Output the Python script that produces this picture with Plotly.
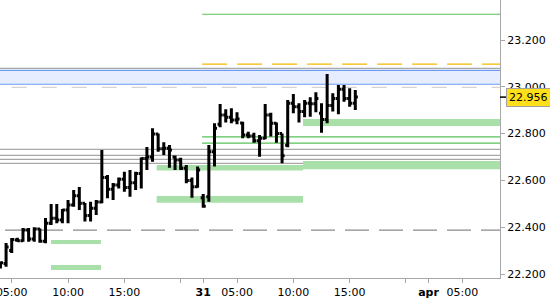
import plotly.graph_objects as go

# ---- OHLC data (30-minute bars, indexed by bar number) ----
open_ = [22.230, 22.245, 22.300, 22.345, 22.342, 22.388, 22.350, 22.392, 22.340, 22.417,
         22.438, 22.431, 22.474, 22.495, 22.535, 22.502, 22.450, 22.481, 22.508, 22.613,
         22.562, 22.580, 22.605, 22.570, 22.590, 22.630, 22.694, 22.700, 22.798, 22.735,
         22.737, 22.700, 22.687, 22.652, 22.600, 22.573, 22.526, 22.530, 22.723, 22.840,
         22.880, 22.870, 22.858, 22.845, 22.794, 22.790, 22.770, 22.780, 22.880, 22.844,
         22.800, 22.750, 22.930, 22.915, 22.894, 22.930, 22.928, 22.887, 22.860, 22.920,
         22.950, 22.990, 22.950, 22.930]
high = [22.253, 22.333, 22.354, 22.355, 22.397, 22.397, 22.400, 22.395, 22.439, 22.499,
        22.499, 22.478, 22.516, 22.559, 22.572, 22.503, 22.509, 22.516, 22.730, 22.623,
        22.589, 22.612, 22.637, 22.645, 22.637, 22.698, 22.743, 22.823, 22.801, 22.763,
        22.751, 22.706, 22.697, 22.666, 22.612, 22.659, 22.542, 22.751, 22.844, 22.927,
        22.904, 22.908, 22.891, 22.851, 22.808, 22.804, 22.794, 22.927, 22.889, 22.847,
        22.801, 22.944, 22.969, 22.930, 22.944, 22.955, 22.977, 22.930, 23.055, 22.972,
        23.008, 23.008, 22.994, 22.986]
low = [22.224, 22.231, 22.290, 22.338, 22.338, 22.338, 22.338, 22.334, 22.331, 22.409,
       22.417, 22.417, 22.417, 22.488, 22.474, 22.424, 22.424, 22.452, 22.502, 22.524,
       22.516, 22.566, 22.552, 22.530, 22.559, 22.566, 22.645, 22.680, 22.723, 22.709,
       22.654, 22.645, 22.645, 22.588, 22.526, 22.569, 22.483, 22.509, 22.659, 22.827,
       22.847, 22.844, 22.840, 22.780, 22.780, 22.761, 22.701, 22.776, 22.788, 22.761,
       22.673, 22.742, 22.887, 22.847, 22.870, 22.872, 22.891, 22.804, 22.844, 22.894,
       22.883, 22.936, 22.915, 22.901]
close = [22.248, 22.315, 22.348, 22.342, 22.388, 22.350, 22.392, 22.340, 22.417, 22.438,
         22.431, 22.474, 22.495, 22.535, 22.502, 22.450, 22.481, 22.508, 22.613, 22.562,
         22.580, 22.605, 22.570, 22.590, 22.630, 22.694, 22.700, 22.798, 22.735, 22.737,
         22.730, 22.687, 22.652, 22.600, 22.573, 22.645, 22.490, 22.723, 22.823, 22.880,
         22.870, 22.858, 22.862, 22.794, 22.790, 22.770, 22.780, 22.880, 22.844, 22.800,
         22.705, 22.930, 22.915, 22.894, 22.930, 22.928, 22.950, 22.860, 22.920, 22.950,
         22.990, 22.950, 22.930, 22.956]
bar_index = list(range(len(close)))

# ---- axis ticks ----
x_tick_vals = [2, 12, 22, 32, 36, 42, 52, 62, 72, 76, 82]
x_tick_text = ["05:00", "10:00", "15:00", "", "<b>31</b>", "05:00", "10:00", "15:00", "",
               "<b>apr</b>", "05:00"]
y_tick_vals = [22.2, 22.4, 22.6, 22.8, 23.0, 23.2]
last_price = 22.956

# ---- price levels / zones ----
gray_levels = [23.079, 22.733, 22.707, 22.690, 22.673]
blue_zone = [23.011, 23.070]
light_dash_level = 22.998
dark_dash_level = 22.388
green_levels = [23.310, 22.786, 22.759]
orange_level = 23.097
level_start = 35.8
green_zone_x0 = [27.74, 27.74, 8.98, 8.98, 53.72, 53.72]
green_zone_x1 = [53.72, 53.72, 17.85, 17.85, None, None]
green_zone_lo = [22.642, 22.505, 22.328, 22.217, 22.833, 22.648]
green_zone_hi = [22.666, 22.533, 22.345, 22.239, 22.862, 22.683]

X_MIN, X_MAX = -0.08, 88.69
Y_MIN, Y_MAX = 22.183, 23.371

fig = go.Figure()
fig.add_trace(go.Ohlc(
    x=bar_index, open=open_, high=high, low=low, close=close,
    increasing=dict(line=dict(color="black", width=3)),
    decreasing=dict(line=dict(color="black", width=3)),
    tickwidth=0.45, hoverinfo="skip", showlegend=False,
))

shapes = []
# green zones (bottom layer)
for x0, x1, lo, hi in zip(green_zone_x0, green_zone_x1, green_zone_lo, green_zone_hi):
    shapes.append(dict(type="rect", xref="x", yref="y", x0=x0,
                       x1=X_MAX + 5 if x1 is None else x1, y0=lo, y1=hi,
                       fillcolor="#a9dfa9", line=dict(width=0), layer="below"))
# blue zone
shapes.append(dict(type="rect", xref="paper", yref="y", x0=0, x1=1,
                   y0=blue_zone[0], y1=blue_zone[1], fillcolor="#e6edff",
                   line=dict(width=0), layer="below"))
for lv in blue_zone:
    shapes.append(dict(type="line", xref="paper", yref="y", x0=0, x1=1, y0=lv, y1=lv,
                       line=dict(color="#6b9cf2", width=1.2), layer="below"))
# gray levels
for lv in gray_levels:
    shapes.append(dict(type="line", xref="paper", yref="y", x0=0, x1=1, y0=lv, y1=lv,
                       line=dict(color="#a8a8a8", width=1.2), layer="below"))
# dashed levels
shapes.append(dict(type="line", xref="x", yref="y", x0=2, x1=X_MAX + 5,
                   y0=light_dash_level, y1=light_dash_level,
                   line=dict(color="#d4d4d4", width=1.2, dash="15px,15px"), layer="below"))
shapes.append(dict(type="line", xref="x", yref="y", x0=0.81, x1=X_MAX + 5,
                   y0=dark_dash_level, y1=dark_dash_level,
                   line=dict(color="#8a8a8a", width=1.2, dash="24px,10px"), layer="below"))
shapes.append(dict(type="line", xref="x", yref="y", x0=level_start, x1=X_MAX + 5,
                   y0=orange_level, y1=orange_level,
                   line=dict(color="#f5b800", width=1.2, dash="25px,10px"), layer="below"))
for lv in green_levels:
    shapes.append(dict(type="line", xref="x", yref="y", x0=level_start, x1=X_MAX + 5,
                       y0=lv, y1=lv, line=dict(color="#58c058", width=1.2), layer="below"))
# last price marker tick on the axis
shapes.append(dict(type="line", xref="paper", yref="y", x0=1.0, x1=1.012,
                   y0=last_price, y1=last_price, line=dict(color="black", width=1.5)))

fig.update_layout(
    width=550, height=300,
    margin=dict(l=0, r=50, t=0, b=22, pad=0, autoexpand=False),
    paper_bgcolor="white", plot_bgcolor="white",
    showlegend=False,
    font=dict(family="DejaVu Sans", size=11, color="black"),
    shapes=shapes,
    annotations=[dict(
        xref="paper", yref="y", x=1.0, y=last_price, xanchor="left", yanchor="middle",
        xshift=6, text=f"{last_price:.3f}", showarrow=False,
        font=dict(family="DejaVu Sans", size=11, color="black"),
        bgcolor="#ffdf1a", bordercolor="#a0a0a0", borderwidth=1, borderpad=2,
    )],
    xaxis=dict(
        range=[X_MIN, X_MAX], showgrid=False, zeroline=False,
        rangeslider=dict(visible=False), automargin=False,
        showline=True, linecolor="#a8a8a8", linewidth=1,
        ticks="outside", ticklen=4, tickcolor="#a8a8a8",
        tickmode="array", tickvals=x_tick_vals, ticktext=x_tick_text,
        ticklabeloverflow="allow",
        tickfont=dict(family="DejaVu Sans", size=11, color="black"),
    ),
    yaxis=dict(
        range=[Y_MIN, Y_MAX], side="right", showgrid=False, zeroline=False,
        automargin=False,
        showline=True, linecolor="#a8a8a8", linewidth=1,
        ticks="outside", ticklen=4, tickcolor="#a8a8a8",
        tickmode="array", tickvals=y_tick_vals,
        ticktext=[f"{v:.3f}" for v in y_tick_vals],
        tickfont=dict(family="DejaVu Sans", size=11, color="black"),
    ),
)

fig.write_html("out.html")
